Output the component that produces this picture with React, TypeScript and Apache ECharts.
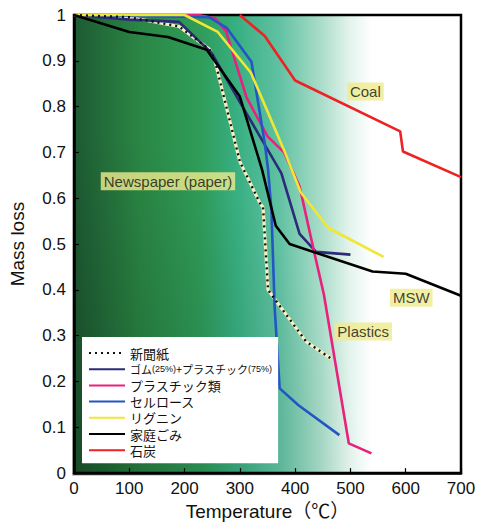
import React, { useEffect, useRef } from "react";
import * as echarts from "echarts";

// Temperature (°C) / mass-loss pairs
const newspaperT = [0, 100, 190, 245, 255, 300, 336, 342, 351, 366, 420, 465];
const newspaperV = [1, 0.995, 0.975, 0.925, 0.9, 0.68, 0.59, 0.58, 0.4, 0.375, 0.287, 0.25];

const rubberPlasticT = [0, 100, 190, 249, 300, 375, 408, 438, 500];
const rubberPlasticV = [1, 0.99, 0.985, 0.917, 0.81, 0.655, 0.522, 0.483, 0.477];

const plasticsT = [0, 225, 255, 275, 285, 312, 350, 380, 408, 433, 452, 497, 538];
const plasticsV = [1, 1, 0.993, 0.965, 0.925, 0.82, 0.735, 0.7, 0.626, 0.49, 0.39, 0.065, 0.043];

const celluloseT = [0, 245, 276, 321, 345, 351, 357, 363, 372, 406, 480];
const celluloseV = [1, 0.995, 0.972, 0.898, 0.72, 0.663, 0.576, 0.36, 0.185, 0.148, 0.083];

const ligninT = [0, 200, 260, 320, 380, 410, 460, 560];
const ligninV = [1, 1, 0.963, 0.874, 0.705, 0.613, 0.535, 0.472];

const mswT = [0, 100, 170, 240, 300, 340, 365, 390, 540, 600, 700];
const mswV = [1, 0.963, 0.952, 0.924, 0.822, 0.663, 0.54, 0.5, 0.44, 0.435, 0.387];

const coalT = [300, 345, 400, 590, 595, 700];
const coalV = [1, 0.954, 0.857, 0.746, 0.702, 0.646];

const legendNames = [
  "新聞紙",
  "ゴム(25%)+プラスチック(75%)",
  "プラスチック類",
  "セルロース",
  "リグニン",
  "家庭ごみ",
  "石炭",
];

const annotationTexts = ["Newspaper (paper)", "Coal", "MSW", "Plastics"];
const annotationT = [170, 527, 610, 523];
const annotationV = [0.637, 0.833, 0.383, 0.309];

const xTicks = [0, 100, 200, 300, 400, 500, 600, 700];

const FONT = "'Liberation Sans', 'Noto Sans CJK JP', sans-serif";

function pairs(t: number[], v: number[]) {
  return t.map((x, i) => [x, v[i]]);
}

export default function App() {
  const ref = useRef<HTMLDivElement>(null);

  useEffect(() => {
    if (!ref.current) return;
    const chart = echarts.init(ref.current, undefined, { renderer: "svg" });

    const line = (name: string, data: number[][], color: string, extra: any = {}) => ({
      name,
      type: "line",
      data,
      symbol: "none",
      showSymbol: false,
      lineStyle: { color, width: 2.6, ...(extra.lineStyle || {}) },
      itemStyle: { color },
      z: extra.z ?? 3,
    });

    const bg = new echarts.graphic.LinearGradient(0, 0, 1, 0, [
      { offset: 0, color: "#1d5a32" },
      { offset: 0.17, color: "#2a8644" },
      { offset: 0.33, color: "#2f9d5a" },
      { offset: 0.42, color: "#38af82" },
      { offset: 0.53, color: "#60c1a2" },
      { offset: 0.64, color: "#abddca" },
      { offset: 0.71, color: "#e2f3ec" },
      { offset: 0.77, color: "#ffffff" },
      { offset: 1, color: "#ffffff" },
    ]);

    const option: any = {
      animation: false,
      backgroundColor: "#ffffff",
      textStyle: { fontFamily: FONT },
      grid: {
        left: 72,
        top: 15,
        right: 18,
        bottom: 50,
        show: true,
        backgroundColor: bg,
        borderColor: "#000",
        borderWidth: 2.5,
      },
      graphic: [
        {
          type: "rect",
          shape: { x: 72, y: 15, width: 389, height: 461 },
          silent: true,
          z: 1,
          style: {
            fill: new echarts.graphic.RadialGradient(0, 1, 0.75, [
              { offset: 0, color: "rgba(0,15,0,0.22)" },
              { offset: 1, color: "rgba(0,0,0,0)" },
            ]),
          },
        },
      ],
      xAxis: {
        type: "value",
        min: 0,
        max: 700,
        interval: 100,
        name: "Temperature（℃）",
        nameLocation: "middle",
        nameGap: 26,
        nameTextStyle: { fontSize: 19, color: "#111", fontFamily: FONT },
        axisLine: { lineStyle: { color: "#000", width: 2.5 } },
        axisTick: { inside: true, length: 5, lineStyle: { color: "#000", width: 1.2 } },
        axisLabel: {
          fontSize: 17,
          color: "#111",
          margin: 7,
          fontFamily: FONT,
          customValues: xTicks,
        },
        splitLine: { show: false },
      },
      yAxis: {
        type: "value",
        min: 0,
        max: 1,
        interval: 0.1,
        name: "Mass loss",
        nameLocation: "middle",
        nameGap: 47,
        nameTextStyle: { fontSize: 19, color: "#111", fontFamily: FONT },
        axisLine: { lineStyle: { color: "#000", width: 2.5 } },
        axisTick: { inside: true, length: 5, lineStyle: { color: "#000", width: 1.2 } },
        axisLabel: { fontSize: 17, color: "#111", margin: 8, fontFamily: FONT },
        splitLine: { show: false },
      },
      legend: {
        data: legendNames,
        orient: "vertical",
        left: 82,
        top: 337,
        backgroundColor: "#ffffff",
        padding: [9, 6, 6, 6],
        itemWidth: 36,
        itemHeight: 14,
        itemGap: 2.2,
        z: 6,
        itemStyle: { opacity: 0, color: "rgba(0,0,0,0)", borderWidth: 0 },
        textStyle: {
          fontSize: 13,
          lineHeight: 14,
          color: "#111",
          fontFamily: "'Noto Sans CJK JP', sans-serif",
          rich: {
            c: { fontSize: 11, lineHeight: 14, color: "#111", fontFamily: "'Noto Sans CJK JP', sans-serif" },
            p: { fontSize: 9, lineHeight: 14, color: "#111", fontFamily: FONT },
          },
        },
        formatter: (name: string) => {
          if (name === legendNames[1]) {
            return "{c|ゴム}{p|(25%)}{c|+プラスチック}{p|(75%)}";
          }
          return name;
        },
      },
      series: [
        line("cream", pairs(newspaperT, newspaperV), "#f4f0c4", {
          lineStyle: { width: 3.2 },
          z: 3,
        }),
        line(legendNames[0], pairs(newspaperT, newspaperV), "#111111", {
          lineStyle: { type: [2, 4], width: 2.4 },
          z: 4,
        }),
        line(legendNames[1], pairs(rubberPlasticT, rubberPlasticV), "#2b2b78"),
        line(legendNames[2], pairs(plasticsT, plasticsV), "#e8227c"),
        line(legendNames[3], pairs(celluloseT, celluloseV), "#2356c4"),
        line(legendNames[4], pairs(ligninT, ligninV), "#f0e634"),
        line(legendNames[5], pairs(mswT, mswV), "#000000"),
        line(legendNames[6], pairs(coalT, coalV), "#ee2222"),
        {
          name: "annotations",
          type: "scatter",
          symbolSize: 0,
          z: 5,
          silent: true,
          data: annotationTexts.map((t, i) => ({ name: t, value: [annotationT[i], annotationV[i]] })),
          label: {
            show: true,
            position: "inside",
            formatter: "{b}",
            fontSize: 15,
            color: "#111",
            fontFamily: FONT,
            backgroundColor: "#efeb8e",
            padding: [2, 3, 1, 3],
          },
        },
      ],
    };

    chart.setOption(option);
    return () => chart.dispose();
  }, []);

  return (
    <div
      ref={ref}
      style={{ position: "fixed", left: 0, top: 0, width: 479, height: 526 }}
    />
  );
}
